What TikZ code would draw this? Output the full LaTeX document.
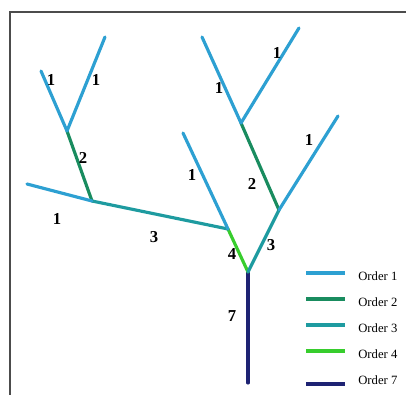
\documentclass[tikz,border=0pt]{standalone}
\usepackage{fontspec}
\setmainfont{Liberation Serif}
\usetikzlibrary{positioning,calc}
\definecolor{ordone}{RGB}{45,160,210}
\definecolor{ordtwo}{RGB}{25,140,95}
\definecolor{ordthree}{RGB}{30,155,160}
\definecolor{ordfour}{RGB}{55,205,45}
\definecolor{ordseven}{RGB}{30,35,115}

\begin{document}
\begin{tikzpicture}[x=0.02cm, y=-0.02cm,
  seg/.style={line width=1.8pt, line cap=round},
  keyline/.style={line width=2.2pt},
  num/.style={font=\fontsize{9.5}{10}\selectfont\bfseries, inner sep=0pt},
  key/.style={font=\fontsize{7.2}{8}\selectfont, inner sep=0pt, anchor=west},
  ]
  \useasboundingbox (0,0) rectangle (406,395);
  \draw[gray!60!black, line width=1pt] (10,395) -- (10,12) -- (406,12);

  % junctions and tips
  \coordinate (base) at (248,383);
  \coordinate (fork) at (248,272);
  \coordinate (jleft) at (228,229);
  \coordinate (jmid) at (92,201);
  \coordinate (jtop) at (67,131);
  \coordinate (jright) at (279,210);
  \coordinate (jupper) at (241,123);
  \coordinate (tipa) at (27,184);
  \coordinate (tipb) at (41,71);
  \coordinate (tipc) at (105,37);
  \coordinate (tipd) at (183,133);
  \coordinate (tipe) at (338,116);
  \coordinate (tipf) at (202,37);
  \coordinate (tipg) at (299,28);

  % stream segments
  \draw[seg, ordseven] (base) -- (fork);
  \draw[seg, ordfour] (fork) -- (jleft);
  \draw[seg, ordthree] (jleft) -- (jmid);
  \draw[seg, ordthree] (fork) -- (jright);
  \draw[seg, ordtwo] (jmid) -- (jtop);
  \draw[seg, ordtwo] (jright) -- (jupper);
  \draw[seg, ordone] (jmid) -- (tipa);
  \draw[seg, ordone] (jtop) -- (tipb);
  \draw[seg, ordone] (jtop) -- (tipc);
  \draw[seg, ordone] (jleft) -- (tipd);
  \draw[seg, ordone] (jright) -- (tipe);
  \draw[seg, ordone] (jupper) -- (tipf);
  \draw[seg, ordone] (jupper) -- (tipg);

  % order labels
  \node[num] (n7) at (232,316) {7};
  \node[num] (n4) at (232,254) {4};
  \node[num] (n3l) at (154,237) {3};
  \node[num] (n3r) at (271,245) {3};
  \node[num] (n2l) at (83,158) {2};
  \node[num] (n2r) at (252,184) {2};
  \node[num] (n1a) at (57,219) {1};
  \node[num] (n1b) at (51,80) {1};
  \node[num] (n1c) at (96,80) {1};
  \node[num] (n1d) at (192,175) {1};
  \node[num] (n1e) at (309,140) {1};
  \node[num] (n1f) at (219,88) {1};
  \node[num] (n1g) at (277,53) {1};

  % legend
  \coordinate (k1a) at (306,273); \coordinate (k1b) at (345,273);
  \coordinate (k2a) at (306,299); \coordinate (k2b) at (345,299);
  \coordinate (k3a) at (306,325); \coordinate (k3b) at (345,325);
  \coordinate (k4a) at (306,351); \coordinate (k4b) at (345,351);
  \coordinate (k7a) at (306,384); \coordinate (k7b) at (345,384);
  \draw[keyline, ordone] (k1a) -- (k1b);
  \draw[keyline, ordtwo] (k2a) -- (k2b);
  \draw[keyline, ordthree] (k3a) -- (k3b);
  \draw[keyline, ordfour] (k4a) -- (k4b);
  \draw[keyline, ordseven] (k7a) -- (k7b);
  \node[key] (t1) at (358,276) {Order 1};
  \node[key] (t2) at (358,302) {Order 2};
  \node[key] (t3) at (358,328) {Order 3};
  \node[key] (t4) at (358,354) {Order 4};
  \node[key] (t7) at (358,380) {Order 7};
\end{tikzpicture}
\end{document}
